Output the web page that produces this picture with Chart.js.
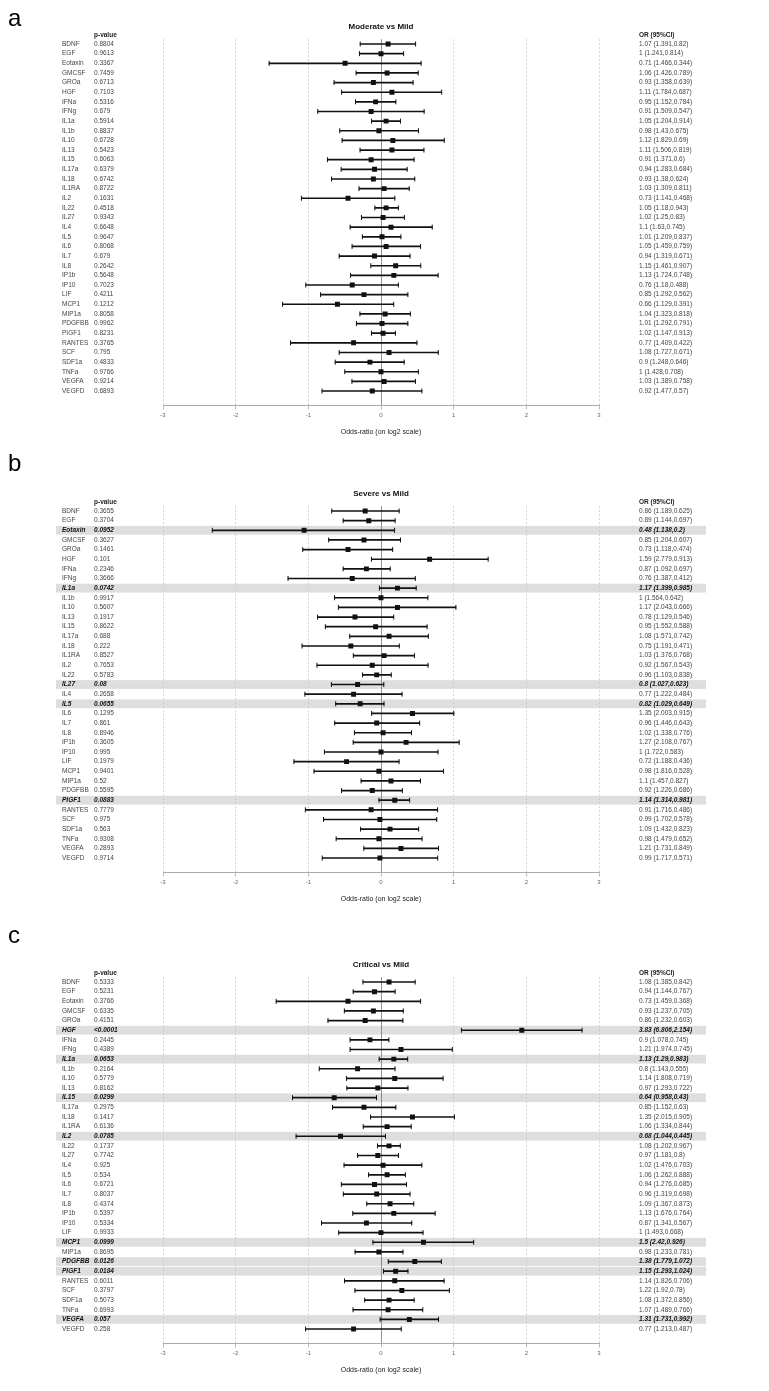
<!DOCTYPE html>
<html>
<head>
<meta charset="utf-8">
<script src="https://cdn.jsdelivr.net/npm/chart.js@4.4.0/dist/chart.umd.min.js"></script>
<style>
  body { margin: 0; background: #fff; }
  #page { position: relative; width: 769px; height: 1391px; background: #fff; overflow: hidden; }
  .panel { position: absolute; left: 0; width: 769px; height: 458px; }
  .letter { position: absolute; left: 8px; font: 24px 'Liberation Sans', Arial, sans-serif; color: #000; }
</style>
</head>
<body>
<div id="page">
  <div class="panel" style="top:0"><canvas id="chartA"></canvas></div>
  <div class="panel" style="top:467px"><canvas id="chartB"></canvas></div>
  <div class="panel" style="top:938px"><canvas id="chartC"></canvas></div>
  <div class="letter" style="top:4px">a</div>
  <div class="letter" style="top:449px">b</div>
  <div class="letter" style="top:921px">c</div>
</div>
<script>
// markers (rows, top to bottom)
const markers = ['BDNF', 'EGF', 'Eotaxin', 'GMCSF', 'GROa', 'HGF', 'IFNa', 'IFNg', 'IL1a', 'IL1b',
  'IL10', 'IL13', 'IL15', 'IL17a', 'IL18', 'IL1RA', 'IL2', 'IL22', 'IL27', 'IL4', 'IL5', 'IL6',
  'IL7', 'IL8', 'IP1b', 'IP10', 'LIF', 'MCP1', 'MIP1a', 'PDGFBB', 'PIGF1', 'RANTES', 'SCF',
  'SDF1a', 'TNFa', 'VEGFA', 'VEGFD'];

// a: Moderate vs Mild
const pA = ['0.8804', '0.9613', '0.3367', '0.7459', '0.6713', '0.7103', '0.5316', '0.679', '0.5914', '0.8837',
  '0.6728', '0.5423', '0.6063', '0.6379', '0.6742', '0.8722', '0.1631', '0.4518', '0.9343', '0.6648', '0.9647', '0.8068',
  '0.679', '0.2642', '0.5648', '0.7023', '0.4211', '0.1212', '0.8058', '0.9962', '0.8231', '0.3765', '0.795',
  '0.4833', '0.9766', '0.9214', '0.6893'];
const orA = [1.07, 1, 0.71, 1.06, 0.93, 1.11, 0.95, 0.91, 1.05, 0.98, 1.12, 1.11, 0.91, 0.94, 0.93, 1.03, 0.73, 1.05,
  1.02, 1.1, 1.01, 1.05, 0.94, 1.15, 1.13, 0.76, 0.85, 0.66, 1.04, 1.01, 1.02, 0.77, 1.08, 0.9, 1, 1.03, 0.92];
const hiA = [1.391, 1.241, 1.466, 1.426, 1.358, 1.784, 1.152, 1.509, 1.204, 1.43, 1.829, 1.506, 1.371, 1.283, 1.38,
  1.309, 1.141, 1.18, 1.25, 1.63, 1.209, 1.459, 1.319, 1.461, 1.724, 1.18, 1.292, 1.129, 1.323, 1.292, 1.147, 1.409,
  1.727, 1.248, 1.428, 1.389, 1.477];
const loA = [0.82, 0.814, 0.344, 0.789, 0.639, 0.687, 0.784, 0.547, 0.914, 0.675, 0.69, 0.819, 0.6, 0.684, 0.624,
  0.811, 0.468, 0.943, 0.83, 0.745, 0.837, 0.759, 0.671, 0.907, 0.748, 0.488, 0.562, 0.391, 0.818, 0.791, 0.913,
  0.422, 0.671, 0.646, 0.708, 0.758, 0.57];

// b: Severe vs Mild
const pB = ['0.3655', '0.3704', '0.0952', '0.3627', '0.1461', '0.101', '0.2346', '0.3666', '0.0742', '0.9917',
  '0.5607', '0.1917', '0.8622', '0.688', '0.222', '0.8527', '0.7653', '0.5783', '0.08', '0.2658', '0.0655', '0.1295',
  '0.861', '0.8946', '0.3605', '0.995', '0.1979', '0.9401', '0.52', '0.5595', '0.0883', '0.7779', '0.975',
  '0.563', '0.9308', '0.2893', '0.9714'];
const orB = [0.86, 0.89, 0.48, 0.85, 0.73, 1.59, 0.87, 0.76, 1.17, 1, 1.17, 0.78, 0.95, 1.08, 0.75, 1.03, 0.92, 0.96,
  0.8, 0.77, 0.82, 1.35, 0.96, 1.02, 1.27, 1, 0.72, 0.98, 1.1, 0.92, 1.14, 0.91, 0.99, 1.09, 0.98, 1.21, 0.99];
const hiB = [1.189, 1.144, 1.138, 1.204, 1.118, 2.779, 1.092, 1.387, 1.399, 1.564, 2.043, 1.129, 1.552, 1.571, 1.191,
  1.376, 1.567, 1.103, 1.027, 1.222, 1.029, 2.003, 1.446, 1.338, 2.108, 1.722, 1.188, 1.816, 1.457, 1.226, 1.314,
  1.716, 1.702, 1.432, 1.479, 1.731, 1.717];
const loB = [0.625, 0.697, 0.2, 0.607, 0.474, 0.913, 0.697, 0.412, 0.985, 0.642, 0.666, 0.546, 0.588, 0.742, 0.471,
  0.768, 0.543, 0.838, 0.623, 0.484, 0.649, 0.915, 0.643, 0.776, 0.767, 0.583, 0.436, 0.528, 0.827, 0.686, 0.981,
  0.486, 0.578, 0.823, 0.652, 0.849, 0.571];

// c: Critical vs Mild
const pC = ['0.5333', '0.5231', '0.3766', '0.6335', '0.4151', '<0.0001', '0.2445', '0.4389', '0.0653', '0.2164',
  '0.5779', '0.8162', '0.0299', '0.2975', '0.1417', '0.6136', '0.0785', '0.1737', '0.7742', '0.925', '0.534', '0.6721',
  '0.8037', '0.4374', '0.5397', '0.5334', '0.9933', '0.0999', '0.8695', '0.0126', '0.0184', '0.6011', '0.3797',
  '0.5073', '0.6993', '0.057', '0.258'];
const orC = [1.08, 0.94, 0.73, 0.93, 0.86, 3.83, 0.9, 1.21, 1.13, 0.8, 1.14, 0.97, 0.64, 0.85, 1.35, 1.06, 0.68, 1.08,
  0.97, 1.02, 1.06, 0.94, 0.96, 1.09, 1.13, 0.87, 1, 1.5, 0.98, 1.38, 1.15, 1.14, 1.22, 1.08, 1.07, 1.31, 0.77];
const hiC = [1.385, 1.144, 1.459, 1.237, 1.232, 6.806, 1.078, 1.974, 1.29, 1.143, 1.808, 1.293, 0.958, 1.152, 2.015,
  1.334, 1.044, 1.202, 1.181, 1.476, 1.262, 1.276, 1.319, 1.367, 1.676, 1.341, 1.493, 2.42, 1.233, 1.779, 1.293,
  1.826, 1.92, 1.372, 1.489, 1.731, 1.213];
const loC = [0.842, 0.767, 0.368, 0.705, 0.603, 2.154, 0.745, 0.745, 0.983, 0.555, 0.719, 0.722, 0.43, 0.63, 0.905,
  0.844, 0.445, 0.967, 0.8, 0.703, 0.888, 0.685, 0.698, 0.873, 0.764, 0.567, 0.668, 0.926, 0.781, 1.072, 1.024,
  0.706, 0.78, 0.856, 0.766, 0.992, 0.487];

const xTicks = [-3, -2, -1, 0, 1, 2, 3];

Chart.defaults.font.family = "'Liberation Sans', Arial, sans-serif";
Chart.defaults.animation = false;

// grey bands behind significant rows + column headers
const rowBands = {
  id: 'rowBands',
  beforeDraw(chart, args, opts) {
    const ctx = chart.ctx, y = chart.scales.y;
    ctx.save();
    ctx.fillStyle = '#dedede';
    opts.sig.forEach((s, i) => {
      if (!s) return;
      const py = y.getPixelForValue(i);
      ctx.fillRect(56, py - 4.4, 650, 8.8);
    });
    ctx.restore();
  },
  afterDraw(chart) {
    const ctx = chart.ctx, y = chart.scales.y;
    const py = y.getPixelForValue(0) - 8.5;
    ctx.save();
    ctx.font = "bold 6.5px 'Liberation Sans', Arial, sans-serif";
    ctx.fillStyle = '#222';
    ctx.textBaseline = 'middle';
    ctx.textAlign = 'left';
    ctx.fillText('p-value', chart.scales.yp.left, py);
    ctx.fillText('OR (95%CI)', chart.scales.yr.left, py);
    ctx.restore();
  }
};

function makeChart(id, title, pvals, ors, his, los) {
  const sig = pvals.map(p => parseFloat(p.replace('<', '')) < 0.1);
  const orText = ors.map((o, i) => o + ' (' + his[i] + ',' + los[i] + ')');
  const cats = markers.concat(['']);
  const rowFont = c => sig[c.index] ? { size: 6.5, weight: 'bold', style: 'italic' } : { size: 6.5 };
  const rowColor = c => sig[c.index] ? '#111' : '#444';

  const textAxis = (labels, position, weight, width, align) => ({
    type: 'category',
    position: position,
    weight: weight,
    labels: labels,
    offset: true,
    grid: { display: false, drawTicks: false },
    border: { display: false },
    ticks: { autoSkip: false, font: rowFont, color: rowColor, padding: 0, crossAlign: align },
    afterFit: s => { s.width = width; }
  });

  return new Chart(document.getElementById(id), {
    type: 'bar',
    data: {
      labels: cats,
      datasets: [
        {
          type: 'bar',
          data: markers.map((m, i) => [Math.log2(los[i]), Math.log2(his[i])]),
          backgroundColor: '#111',
          borderWidth: 0,
          barThickness: 1
        },
        {
          type: 'scatter',
          data: markers.flatMap((m, i) => [{ x: Math.log2(los[i]), y: m }, { x: Math.log2(his[i]), y: m }]),
          pointStyle: 'line',
          rotation: 90,
          radius: 2.5,
          borderColor: '#111',
          borderWidth: 1
        },
        {
          type: 'scatter',
          data: markers.map((m, i) => ({ x: Math.log2(ors[i]), y: m })),
          pointStyle: 'rect',
          radius: 3.5,
          backgroundColor: '#111',
          borderColor: '#111',
          borderWidth: 0
        }
      ]
    },
    options: {
      indexAxis: 'y',
      responsive: true,
      maintainAspectRatio: false,
      events: [],
      layout: { padding: { left: 62, right: 0, top: 0, bottom: 21.9 } },
      plugins: {
        legend: { display: false },
        tooltip: { enabled: false },
        title: {
          display: true, text: title, fullSize: false, color: '#111',
          font: { size: 8, weight: 'bold' }, padding: { top: 22.2, bottom: 7.4 }
        },
        rowBands: { sig: sig }
      },
      scales: {
        x: {
          type: 'linear', min: xTicks[0], max: xTicks[xTicks.length - 1],
          afterBuildTicks: s => { s.ticks = xTicks.map(v => ({ value: v })); },
          ticks: { color: '#666', font: { size: 6 }, padding: 2 },
          grid: {
            color: c => (c.tick && c.tick.value === 0) ? '#777' : '#c8c8c8',
            lineWidth: 0.8, tickLength: 4, tickColor: '#aaa'
          },
          border: { display: true, color: '#aaa', dash: c => (c.type === 'tick' && c.tick.value !== 0) ? [2, 2] : [] },
          title: {
            display: true, text: 'Odds-ratio (on log2 scale)', color: '#222',
            font: { size: 7 }, padding: { top: 7, bottom: 0 }
          }
        },
        y: textAxis(cats, 'left', 2, 32, 'far'),
        yp: textAxis(pvals.concat(['']), 'left', 1, 69, 'far'),
        // empty gap between plot and OR column
        gap: {
          type: 'category', position: 'right', weight: 0, labels: cats, offset: true,
          grid: { display: false, drawTicks: false }, border: { display: false },
          ticks: { display: false },
          afterFit: s => { s.width = 40; }
        },
        yr: textAxis(orText.concat(['']), 'right', 1, 130, 'near')
      }
    },
    plugins: [rowBands]
  });
}

makeChart('chartA', 'Moderate vs Mild', pA, orA, hiA, loA);
makeChart('chartB', 'Severe vs Mild', pB, orB, hiB, loB);
makeChart('chartC', 'Critical vs Mild', pC, orC, hiC, loC);
</script>
</body>
</html>
